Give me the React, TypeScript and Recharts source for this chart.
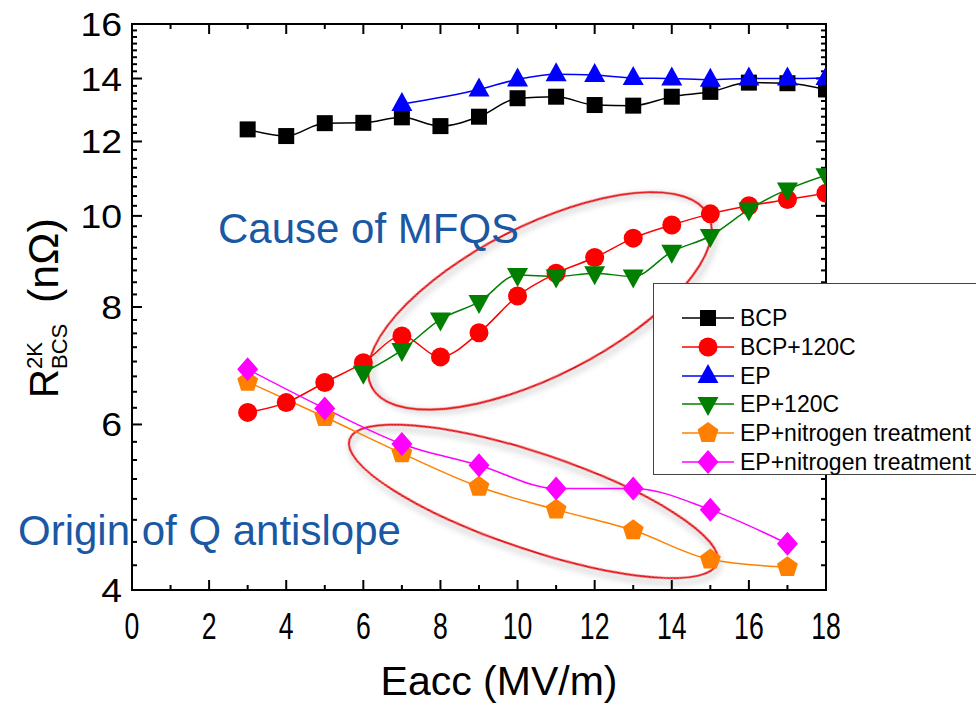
import React from 'react'
import { LineChart, Line, XAxis, YAxis, Legend, Customized } from 'recharts'

// Eacc sample points (MV/m) for each measurement set
const eaccBcp = [3, 4, 5, 6, 7, 8, 9, 10, 11, 12, 13, 14, 15, 16, 17, 18]
const eaccEp = [7, 9, 10, 11, 12, 13, 14, 15, 16, 17, 18]
const eaccEp120 = [6, 7, 8, 9, 10, 11, 12, 13, 14, 15, 16, 17, 18]
const eaccNitrogen = [3, 5, 7, 9, 11, 13, 15, 17]

// R_BCS at 2 K (nOhm)
const bcp = [12.36, 12.16, 12.55, 12.56, 12.73, 12.46, 12.75, 13.34, 13.39, 13.12, 13.1, 13.39, 13.55, 13.86, 13.84, 13.63]
const bcp120 = [6.18, 6.33, 6.65, 6.98, 7.45, 7.08, 7.51, 8.22, 8.69, 9.03, 9.47, 9.78, 10.05, 10.25, 10.41, 10.57]
const ep = [13.15, 13.63, 13.97, 14.15, 14.12, 14.02, 14.0, 13.96, 14.0, 14.0, 14.02]
const ep120 = [6.81, 7.2, 7.76, 8.1, 8.65, 8.62, 8.69, 8.62, 9.16, 9.52, 10.16, 10.67, 11.05]
const epNitrogenA = [6.66, 6.11, 5.59, 5.15, 4.87, 4.63, 4.31, 4.23]
const epNitrogenB = [6.87, 6.24, 5.72, 5.43, 5.13, 5.13, 4.87, 4.48]

const xMajor = [0, 2, 4, 6, 8, 10, 12, 14, 16, 18]
const xMinor = [1, 3, 5, 7, 9, 11, 13, 15, 17]
const yMajor = [4, 6, 8, 10, 12, 14, 16]
const yMinor: number[] = []
for (let v = 4.25; v < 16; v += 0.25) if (!yMajor.includes(v)) yMinor.push(v)

const X_DOMAIN: [number, number] = [0, 18]
const Y_DOMAIN: [number, number] = [4, 16]

const WIDTH = 976
const HEIGHT = 706
const MARGIN = { top: 24, right: 150, bottom: 115, left: 0 }
const Y_AXIS_W = 132
const FONT = '"Liberation Sans", Arial, Helvetica, sans-serif'
const NOTE_BLUE = '#1b58a3'
const RING_RED = '#e3191b'

type Shape = 'square' | 'circle' | 'triUp' | 'triDown' | 'pentagon' | 'diamond'

const series = [
  { key: 'bcp', name: 'BCP', color: '#000000', shape: 'square' as Shape, x: eaccBcp, y: bcp },
  { key: 'bcp120', name: 'BCP+120C', color: '#ff0000', shape: 'circle' as Shape, x: eaccBcp, y: bcp120 },
  { key: 'ep', name: 'EP', color: '#0000ff', shape: 'triUp' as Shape, x: eaccEp, y: ep },
  { key: 'ep120', name: 'EP+120C', color: '#007f00', shape: 'triDown' as Shape, x: eaccEp120, y: ep120 },
  { key: 'epNA', name: 'EP+nitrogen treatment', color: '#ff8000', shape: 'pentagon' as Shape, x: eaccNitrogen, y: epNitrogenA },
  { key: 'epNB', name: 'EP+nitrogen treatment', color: '#ff00ff', shape: 'diamond' as Shape, x: eaccNitrogen, y: epNitrogenB },
]

// plot box (same as the chart margins), used for the frame, inner ticks and rings
const plot = { left: 132, right: 826, top: 24, bottom: 590 }
const xPx = (v: number) => plot.left + ((v - X_DOMAIN[0]) / (X_DOMAIN[1] - X_DOMAIN[0])) * (plot.right - plot.left)
const yPx = (v: number) =>
  plot.bottom - (Math.log(v / Y_DOMAIN[0]) / Math.log(Y_DOMAIN[1] / Y_DOMAIN[0])) * (plot.bottom - plot.top)

const rings = [
  { eacc: 10.58, r: 8.12, rx: 189, ry: 75, angle: -27 },
  { eacc: 10.41, r: 4.97, rx: 194, ry: 48, angle: 18.6 },
]

function Marker({ cx, cy, shape, color }: { cx: number; cy: number; shape: Shape; color: string }) {
  if (cx == null || cy == null) return null
  switch (shape) {
    case 'square':
      return <rect x={cx - 8} y={cy - 8} width={16} height={16} fill={color} />
    case 'circle':
      return <circle cx={cx} cy={cy} r={9.5} fill={color} />
    case 'triUp':
      return <polygon points={`${cx},${cy - 12} ${cx + 10.5},${cy + 7} ${cx - 10.5},${cy + 7}`} fill={color} />
    case 'triDown':
      return <polygon points={`${cx},${cy + 12} ${cx + 10.5},${cy - 7} ${cx - 10.5},${cy - 7}`} fill={color} />
    case 'pentagon': {
      const pts = [0, 1, 2, 3, 4]
        .map((i) => {
          const a = -Math.PI / 2 + (i * 2 * Math.PI) / 5
          return `${cx + 11 * Math.cos(a)},${cy + 11 * Math.sin(a)}`
        })
        .join(' ')
      return <polygon points={pts} fill={color} />
    }
    case 'diamond':
      return <polygon points={`${cx},${cy - 12} ${cx + 10.5},${cy} ${cx},${cy + 12} ${cx - 10.5},${cy}`} fill={color} />
  }
  return null
}

const textW = (s: string, fs: number, stretch: number) => s.length * 0.556 * fs * stretch

function BottomLabel(props: any) {
  const { x, payload } = props
  const label = String(payload.value)
  return (
    <text
      x={x}
      y={plot.bottom + 49}
      textAnchor="middle"
      fontFamily={FONT}
      fontSize={36}
      textLength={textW(label, 36, 0.74)}
      lengthAdjust="spacingAndGlyphs"
      fill="#000"
    >
      {label}
    </text>
  )
}

function LeftLabel(props: any) {
  const { y, payload } = props
  const label = String(Math.round(payload.value))
  return (
    <text
      x={plot.left - 10}
      y={y + 12}
      textAnchor="end"
      fontFamily={FONT}
      fontSize={34}
      textLength={textW(label, 34, 1.1)}
      lengthAdjust="spacingAndGlyphs"
      fill="#000"
    >
      {label}
    </text>
  )
}

// frame with inward ticks on all four sides
function Frame() {
  const major = 10
  const minor = 5
  const st = { stroke: '#000', strokeWidth: 2 }
  return (
    <g>
      <rect
        x={plot.left}
        y={plot.top}
        width={plot.right - plot.left}
        height={plot.bottom - plot.top}
        fill="none"
        {...st}
      />
      {[...xMajor.map((v) => [v, major]), ...xMinor.map((v) => [v, minor])].map(([v, len]) => (
        <g key={`x${v}`}>
          <line x1={xPx(v)} x2={xPx(v)} y1={plot.bottom} y2={plot.bottom - len} {...st} />
          <line x1={xPx(v)} x2={xPx(v)} y1={plot.top} y2={plot.top + len} {...st} />
        </g>
      ))}
      {[...yMajor.map((v) => [v, major]), ...yMinor.map((v) => [v, minor])].map(([v, len]) => (
        <g key={`y${v}`}>
          <line x1={plot.left} x2={plot.left + len} y1={yPx(v)} y2={yPx(v)} {...st} />
          <line x1={plot.right} x2={plot.right - len} y1={yPx(v)} y2={yPx(v)} {...st} />
        </g>
      ))}
    </g>
  )
}

// rings, notes and axis titles drawn on top of the series
function Annotations() {
  return (
    <g>
      <defs>
        <filter id="ring-shadow" x="-20%" y="-30%" width="140%" height="160%">
          <feDropShadow dx={3} dy={4} stdDeviation={3} floodColor="#000" floodOpacity={0.35} />
        </filter>
      </defs>
      <Frame />
      {rings.map((r, i) => (
        <ellipse
          key={i}
          cx={xPx(r.eacc)}
          cy={yPx(r.r)}
          rx={r.rx}
          ry={r.ry}
          transform={`rotate(${r.angle} ${xPx(r.eacc)} ${yPx(r.r)})`}
          fill="none"
          stroke={RING_RED}
          strokeWidth={2}
          filter="url(#ring-shadow)"
        />
      ))}
      <text x={218} y={243} fontFamily={FONT} fontSize={42} fill={NOTE_BLUE}>
        Cause of MFQS
      </text>
      <text x={18} y={545} fontFamily={FONT} fontSize={42} fill={NOTE_BLUE}>
        Origin of Q antislope
      </text>
      <text x={499} y={695} textAnchor="middle" fontFamily={FONT} fontSize={41} fill="#000">
        Eacc (MV/m)
      </text>
      <g transform="rotate(-90)" fontFamily={FONT} fill="#000">
        <text x={-398} y={58} fontSize={40}>
          R
        </text>
        <text x={-369} y={42} fontSize={22}>
          2K
        </text>
        <text x={-369} y={67} fontSize={22}>
          BCS
        </text>
        <text x={-303} y={58} fontSize={43}>
          (nΩ)
        </text>
      </g>
    </g>
  )
}

function LegendBox(props: any) {
  const payload = props.payload || []
  return (
    <div
      style={{
        width: 340,
        height: 192,
        boxSizing: 'border-box',
        border: '1px solid #444',
        background: '#fff',
        paddingTop: 20,
        fontFamily: FONT,
        fontSize: 23,
        color: '#000',
      }}
    >
      {payload.map((entry: any, i: number) => {
        const s = series.find((d) => d.key === entry.dataKey) || series[i]
        return (
          <div key={i} style={{ display: 'flex', alignItems: 'center', height: 28.7, whiteSpace: 'nowrap' }}>
            <svg width={60} height={28} style={{ marginLeft: 26, flex: 'none' }}>
              <line x1={2} y1={14} x2={54} y2={14} stroke={s.color} strokeWidth={1.5} />
              <Marker cx={28} cy={14} shape={s.shape} color={s.color} />
            </svg>
            <span style={{ marginLeft: 0, lineHeight: '28px' }}>{s.name}</span>
          </div>
        )
      })}
    </div>
  )
}

export default function App() {
  return (
    <div
      style={{
        position: 'absolute',
        left: 0,
        top: 0,
        width: WIDTH,
        height: HEIGHT,
        overflow: 'hidden',
        background: '#fff',
      }}
    >
      <LineChart width={WIDTH} height={HEIGHT} margin={MARGIN}>
        <XAxis
          dataKey="eacc"
          type="number"
          domain={X_DOMAIN}
          ticks={xMajor}
          interval={0}
          allowDataOverflow
          height={1}
          tickLine={false}
          axisLine={false}
          tick={BottomLabel}
        />
        <YAxis
          type="number"
          scale="log"
          domain={Y_DOMAIN}
          ticks={yMajor}
          interval={0}
          allowDataOverflow
          width={Y_AXIS_W}
          tickLine={false}
          axisLine={false}
          tick={LeftLabel}
        />
        {series.map((s) => (
          <Line
            key={s.key}
            data={s.x.map((e, i) => ({ eacc: e, [s.key]: s.y[i] }))}
            dataKey={s.key}
            name={s.name}
            type="monotone"
            stroke={s.color}
            strokeWidth={1.5}
            isAnimationActive={false}
            dot={(p: any) => <Marker key={`${s.key}-${p.index}`} cx={p.cx} cy={p.cy} shape={s.shape} color={s.color} />}
            activeDot={false}
          />
        ))}
        <Customized component={Annotations} />
        <Legend
          layout="horizontal"
          verticalAlign="middle"
          align="center"
          content={LegendBox}
          wrapperStyle={{ left: 653, top: 283, width: 340, height: 192 }}
        />
      </LineChart>
    </div>
  )
}
